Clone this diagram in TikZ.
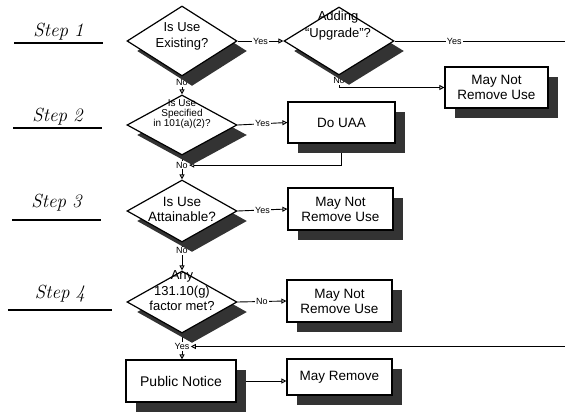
\documentclass[tikz,border=0pt]{standalone}
\usepackage{fontspec}
\newfontfamily\sansf{Liberation Sans}
\usetikzlibrary{shapes.geometric, shadows, arrows.meta, backgrounds}
\begin{document}
\begin{tikzpicture}[x=1pt, y=-1pt,
  shad/.style={drop shadow={shadow xshift=10pt, shadow yshift=-10pt, fill=black!80, opacity=1}},
  dia/.style={shape=diamond, draw, line width=1.2pt, fill=white, inner sep=0pt,
    minimum width=110pt, minimum height=#1, shad},
  dia/.default=64pt,
  txt/.style={font=\sansf\fontsize{13.5}{15}\selectfont, align=center, inner sep=0pt},
  box/.style={draw, line width=1.2pt, fill=white, align=center, inner sep=0pt,
    font=\sansf\fontsize{13.5}{15}\selectfont, shad},
  lbl/.style={font=\sansf\fontsize{9}{10}\selectfont, fill=white, inner sep=1pt},
  conn/.style={line width=0.9pt},
  arr/.style={line width=0.9pt, -{Triangle[open, length=5pt, width=5pt]}},
  steplbl/.style={font=\itshape\fontsize{19}{19}\selectfont, anchor=base, inner xsep=0pt, minimum width=88pt},
  uline/.style={line width=1.4pt}
]
\useasboundingbox (0,0) rectangle (565,415);

% step labels
\node[steplbl] (s1) at (58.5,36) {Step\hspace{6pt}1};
\node[steplbl] (s2) at (57.5,121) {Step\hspace{6pt}2};
\node[steplbl] (s3) at (56.5,207) {Step\hspace{6pt}3};
\node[steplbl, minimum width=104pt] (s4) at (60,298) {Step\hspace{6pt}4};
\draw[uline] ([yshift=-7pt]s1.base west) -- ([yshift=-7pt]s1.base east);
\draw[uline] ([yshift=-7pt]s2.base west) -- ([yshift=-7pt]s2.base east);
\draw[uline] ([yshift=-13pt]s3.base west) -- ([yshift=-13pt]s3.base east);
\draw[uline] ([yshift=-12pt]s4.base west) -- ([yshift=-12pt]s4.base east);

% decisions
\node[dia=70pt] (d1) at (182,41) {};
\node[txt, font=\sansf\fontsize{13}{16}\selectfont] (t1) at (182,36) {Is Use\\Existing?};
\node[dia=68pt] (d2) at (339,41) {};
\node[txt, font=\sansf\fontsize{13}{17}\selectfont] (t2) at (338,26) {Adding\\“Upgrade”?};
\node[dia=60pt] (d3) at (182,125) {};
\node[txt, font=\sansf\fontsize{10}{10}\selectfont] (t3) at (182,114) {Is Use\\Specified\\in 101(a)(2)?};
\node[dia=62pt] (d4) at (182,211) {};
\node[txt] (t4) at (182,209) {Is Use\\Attainable?};
\node[dia=62pt] (d5) at (182,302) {};
\node[txt, font=\sansf\fontsize{13}{15.5}\selectfont] (t5) at (182,291) {Any\\131.10(g)\\factor met?};

% boxes
\node[box, minimum width=103pt, minimum height=41pt] (b1) at (496.5,87.5) {May Not\\Remove Use};
\node[box, minimum width=107pt, minimum height=41pt] (uaa) at (341.5,122.5) {Do UAA};
\node[box, minimum width=105pt, minimum height=42pt] (b2) at (340.5,209) {May Not\\Remove Use};
\node[box, minimum width=105pt, minimum height=42pt] (b3) at (339.5,301) {May Not\\Remove Use};
\node[box, minimum width=110pt, minimum height=42pt, font=\sansf\fontsize{14}{15}\selectfont] (pn) at (181,381) {Public Notice};
\node[box, minimum width=105pt, minimum height=36pt] (mr) at (339.5,377) {May Remove};

\coordinate (e1) at (565,41);
\coordinate (e2) at (565,347);

\begin{pgfonlayer}{background}
\draw[arr] (d1.east) -- node[lbl]{Yes} (d2.west);
\draw[conn] (d2.east) -- node[lbl, pos=0.35]{Yes} (e1);
\draw[arr] (d2.south) |- node[lbl, pos=0.22]{No} (b1.west);
\draw[arr] (d1.south) -- node[lbl, pos=0.35]{No} (d3.north);
\draw[arr] (d3.east) -- node[lbl]{Yes} (uaa.west);
\draw[arr] (d3.south) -- node[lbl, pos=0.4] (n3) {No} (d4.north);
\draw[arr] (uaa.south) |- (n3.east);
\draw[arr] (d4.east) -- node[lbl]{Yes} (b2.west);
\draw[arr] (d4.south) -- node[lbl, pos=0.3]{No} (d5.north);
\draw[arr] (d5.east) -- node[lbl]{No} (b3.west);
\draw[arr] (d5.south) -- node[lbl, pos=0.5] (y5) {Yes} (d5.south |- pn.north);
\draw[arr] (e2 |- y5.east) -- (y5.east);
\draw[arr] (pn.east) -- (pn.east -| mr.west);
\end{pgfonlayer}
\end{tikzpicture}
\end{document}
